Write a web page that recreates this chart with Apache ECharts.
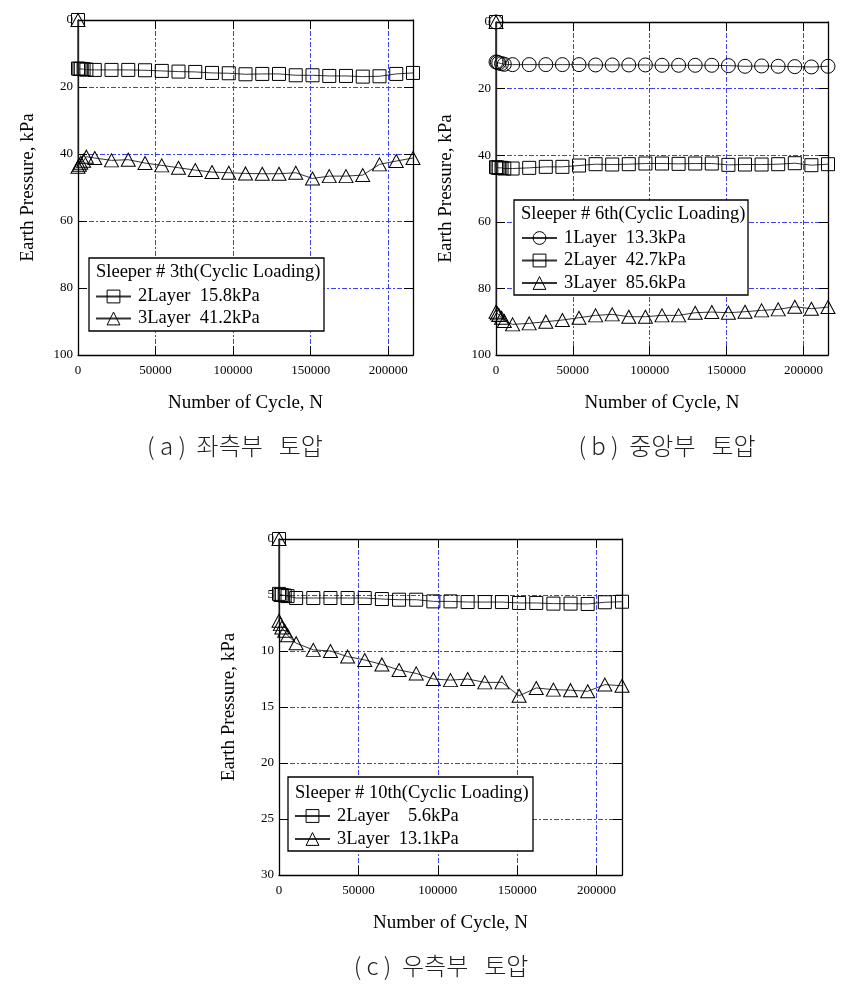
<!DOCTYPE html>
<html><head><meta charset="utf-8">
<script src="https://cdn.jsdelivr.net/npm/echarts@6/dist/echarts.min.js"></script>
<style>html,body{margin:0;padding:0;background:#fff}#c{width:868px;height:986px}</style>
</head><body><div id="c"></div>
<script>
// ---------- data ----------
const cycles = [0, 1, 900, 1800, 3600, 5400, 10800, 21600, 32400, 43200, 54000, 64800, 75600, 86400, 97200, 108000, 118800, 129600, 140400, 151200, 162000, 172800, 183600, 194400, 205200, 216000];

// (a) Sleeper # 3th
const a_layer2 = [0, 14.5, 14.6, 14.6, 14.7, 14.8, 14.9, 14.9, 14.9, 15.0, 15.2, 15.4, 15.5, 15.8, 15.9, 16.2, 16.1, 16.1, 16.5, 16.5, 16.7, 16.7, 16.9, 16.8, 16.1, 15.8];
const a_layer3 = [0, 43.8, 43.2, 42.6, 42.0, 40.8, 41.2, 41.9, 41.7, 42.7, 43.4, 44.1, 44.8, 45.4, 45.6, 45.8, 45.9, 45.9, 45.6, 47.3, 46.6, 46.6, 46.3, 43.1, 42.1, 41.2];

// (b) Sleeper # 6th
const b_layer1 = [0, 12.0, 12.1, 12.3, 12.5, 12.7, 12.8, 12.8, 12.8, 12.8, 12.8, 12.9, 12.9, 12.9, 12.9, 13.0, 13.0, 13.0, 13.0, 13.1, 13.3, 13.2, 13.3, 13.4, 13.5, 13.3];
const b_layer2 = [0, 43.6, 43.7, 43.8, 43.8, 44.0, 44.0, 43.8, 43.5, 43.5, 43.1, 42.7, 42.8, 42.7, 42.5, 42.5, 42.6, 42.5, 42.5, 42.9, 42.8, 42.8, 42.7, 42.4, 43.0, 42.7];
const b_layer3 = [0, 87.0, 87.5, 88.0, 88.8, 89.8, 90.8, 90.5, 90.0, 89.5, 88.8, 88.1, 87.8, 88.5, 88.5, 88.1, 88.1, 87.3, 87.1, 87.3, 87.0, 86.6, 86.3, 85.5, 86.1, 85.6];

// (c) Sleeper # 10th
const c_layer2 = [0, 4.9, 5.0, 5.0, 5.05, 5.1, 5.27, 5.27, 5.27, 5.27, 5.27, 5.36, 5.42, 5.42, 5.57, 5.57, 5.63, 5.63, 5.63, 5.71, 5.71, 5.77, 5.77, 5.8, 5.65, 5.6];
const c_layer3 = [0, 7.3, 7.6, 7.9, 8.2, 8.6, 9.3, 9.9, 10.0, 10.5, 10.8, 11.2, 11.7, 12.0, 12.5, 12.6, 12.5, 12.8, 12.8, 14.0, 13.3, 13.45, 13.5, 13.6, 13.0, 13.1];

const names_a = ['2Layer  15.8kPa', '3Layer  41.2kPa'];
const names_b = ['1Layer  13.3kPa', '2Layer  42.7kPa', '3Layer  85.6kPa'];
const names_c = ['2Layer    5.6kPa', '3Layer  13.1kPa'];
const legendTitles = ['Sleeper # 3th(Cyclic Loading)', 'Sleeper # 6th(Cyclic Loading)', 'Sleeper # 10th(Cyclic Loading)'];
const captions = ['( a )  좌측부   토압', '( b )  중앙부   토압', '( c )  우측부   토압'];

const xMax = 216000, xInterval = 50000;
const yMaxs = [100, 100, 30];
const yIntervals = [20, 20, 5];
const xName = 'Number of Cycle, N';
const yName = 'Earth Pressure, kPa';

// ---------- layout ----------
const SERIF = '"Liberation Serif","Times New Roman",serif';
const grids = [
  {left: 78, top: 20, width: 335, height: 335},
  {left: 496, top: 22, width: 332, height: 333},
  {left: 279, top: 539, width: 343, height: 336}
];
const gridColor = '#3f3ff5';

const xAxes = [], yAxes = [];
grids.forEach((g, gi) => {
  const baseLine = {show: true, onZero: false, lineStyle: {color: '#000', width: 1.3}};
  const tick = {show: true, inside: true, length: 9, lineStyle: {color: '#000', width: 1}};
  xAxes.push({
    gridIndex: gi, type: 'value', position: 'bottom', min: 0, max: xMax, interval: xInterval,
    axisLine: baseLine, axisTick: tick,
    axisLabel: {fontFamily: SERIF, fontSize: 13, color: '#000', margin: 9, showMaxLabel: false,
      formatter: v => String(v)},
    splitLine: {show: true, lineStyle: {color: gridColor, width: 1, type: [5, 2, 2, 2]}},
    name: xName, nameLocation: 'middle', nameGap: 39,
    nameTextStyle: {fontFamily: SERIF, fontSize: 19, color: '#000'}
  });
  xAxes.push({
    gridIndex: gi, type: 'value', position: 'top', min: 0, max: xMax, interval: xInterval,
    axisLine: baseLine, axisTick: tick, axisLabel: {show: false}, splitLine: {show: false}
  });
  yAxes.push({
    gridIndex: gi, type: 'value', position: 'left', inverse: true, min: 0, max: yMaxs[gi], interval: yIntervals[gi],
    axisLine: baseLine, axisTick: tick,
    axisLabel: {fontFamily: SERIF, fontSize: 13, color: '#000', margin: 5},
    splitLine: {show: true, lineStyle: {color: gridColor, width: 1, type: [5, 2, 2, 2]}},
    name: yName, nameLocation: 'middle', nameGap: 40, nameRotate: 90,
    nameTextStyle: {fontFamily: SERIF, fontSize: 19, color: '#000'}
  });
  yAxes.push({
    gridIndex: gi, type: 'value', position: 'right', inverse: true, min: 0, max: yMaxs[gi], interval: yIntervals[gi],
    axisLine: baseLine, axisTick: tick, axisLabel: {show: false}, splitLine: {show: false}
  });
});

function mk(name, vals, sym, size, gi) {
  return {
    type: 'line', name: name, xAxisIndex: gi * 2, yAxisIndex: gi * 2,
    data: cycles.map((c, i) => [c, vals[i]]),
    symbol: sym, symbolSize: size, showSymbol: true, showAllSymbol: true,
    lineStyle: {color: '#333', width: 1},
    itemStyle: {color: 'rgba(255,255,255,0)', borderColor: '#000', borderWidth: 1},
    emphasis: {disabled: true}, animation: false, z: 3
  };
}
const SQ = 13, TRI = [14, 13], CIR = 14;
const series = [
  mk(names_a[0], a_layer2, 'rect', SQ, 0),
  mk(names_a[1], a_layer3, 'triangle', TRI, 0),
  mk(names_b[0], b_layer1, 'circle', CIR, 1),
  mk(names_b[1], b_layer2, 'rect', SQ, 1),
  mk(names_b[2], b_layer3, 'triangle', TRI, 1),
  mk(names_c[0], c_layer2, 'rect', SQ, 2),
  mk(names_c[1], c_layer3, 'triangle', TRI, 2)
];

const legendBoxes = [
  {x: 89, y: 258, w: 235, h: 73, itemLeft: 95, itemTop: 287, titleY: 272, gap: 3},
  {x: 514, y: 200, w: 234, h: 95, itemLeft: 521, itemTop: 228.5, titleY: 214, gap: 3.5},
  {x: 288, y: 777, w: 245, h: 74, itemLeft: 294, itemTop: 806.5, titleY: 793, gap: 4}
];
const legendNames = [names_a, names_b, names_c];
const legends = legendBoxes.map((b, i) => ({
  left: b.itemLeft, top: b.itemTop, orient: 'vertical', padding: 0,
  itemWidth: 35, itemHeight: 16, itemGap: b.gap, selectedMode: false, z: 60,
  itemStyle: {borderWidth: 1},
  data: legendNames[i],
  textStyle: {fontFamily: SERIF, fontSize: 18.5, lineHeight: 19, color: '#000', padding: [0, 0, 0, 2]}
}));

const graphics = [];
legendBoxes.forEach((b, i) => {
  graphics.push({type: 'rect', z: 50, shape: {x: b.x, y: b.y, width: b.w, height: b.h},
    style: {fill: '#fff', stroke: '#000', lineWidth: 1.3}});
  graphics.push({type: 'text', z: 51, x: b.x + 7, y: b.titleY,
    style: {text: legendTitles[i], fontFamily: SERIF, fontSize: 18.5, fill: '#000', verticalAlign: 'middle'}});
});
const capPos = [[235, 446], [667, 446], [441, 966]];
captions.forEach((t, i) => {
  graphics.push({type: 'text', z: 51, x: capPos[i][0], y: capPos[i][1],
    style: {text: t, fontFamily: '"Noto Sans CJK KR"', fontSize: 24, fontWeight: 300, fill: '#222', align: 'center', verticalAlign: 'middle'}});
});

const chart = echarts.init(document.getElementById('c'), null, {renderer: 'canvas'});
chart.setOption({
  animation: false,
  backgroundColor: '#fff',
  grid: grids,
  xAxis: xAxes,
  yAxis: yAxes,
  legend: legends,
  series: series,
  graphic: graphics
});
</script></body></html>
